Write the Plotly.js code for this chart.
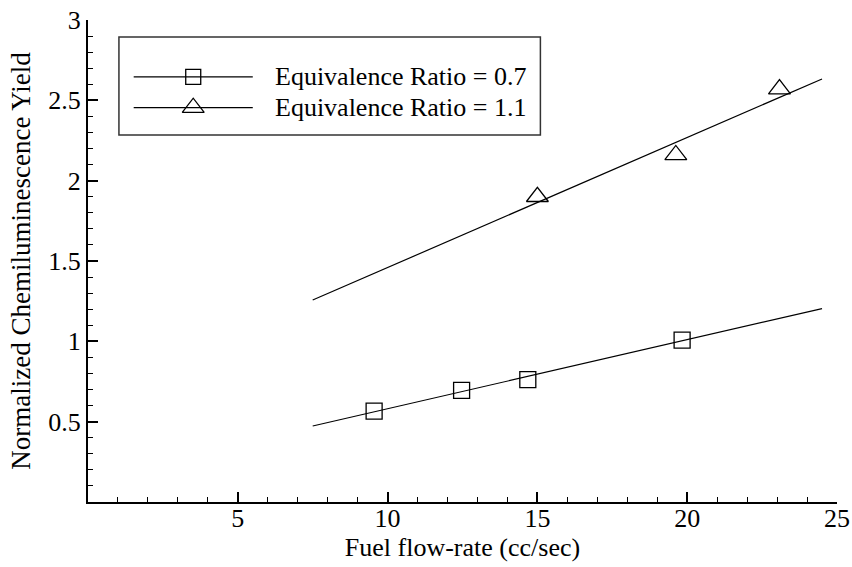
<!DOCTYPE html>
<html>
<head>
<meta charset="utf-8">
<script src="https://cdn.plot.ly/plotly-3.0.1.min.js"></script>
<style>html,body{margin:0;padding:0;background:#fff;}#chart{width:852px;height:567px;}</style>
</head>
<body>
<div id="chart"></div>
<script>
// ---- data ----
const seriesNames = ["Equivalence Ratio = 0.7", "Equivalence Ratio = 1.1"];
const phi07_x = [9.55, 12.47, 14.68, 19.83];
const phi07_y = [0.565, 0.695, 0.762, 1.008];
const phi11_x = [15.0, 19.62, 23.08];
const phi11_y = [1.90, 2.16, 2.57];
// linear fit lines (end points)
const fit07_x = [7.5, 24.5];
const fit07_y = [0.473, 1.204];
const fit11_x = [7.5, 24.5];
const fit11_y = [1.257, 2.633];
// axis ticks
const xTickVals = [5, 10, 15, 20, 25];
const xTickText = ["5", "10", "15", "20", "25"];
const yTickVals = [0.5, 1, 1.5, 2, 2.5, 3];
const yTickText = ["0.5", "1", "1.5", "2", "2.5", "3"];
const xTitle = "Fuel flow-rate (cc/sec)";
const yTitle = "Normalized Chemiluminescence Yield";

const FONT = "Liberation Serif";
const FS = 26;

const lineStyle = {color: "black", width: 1.2};
const sq = {symbol: "square-open", size: 16, color: "black", line: {width: 1.3}};
const tri = {symbol: "triangle-up-open", size: 19, color: "black", line: {width: 1.3}};

// legend sample geometry (overlay axes, 0..1 = plot area)
const legX = [0.061, 0.22], legMid = 0.1405, legY = [0.882, 0.818];

const traces = [
  {x: fit07_x, y: fit07_y, mode: "lines", line: lineStyle, hoverinfo: "skip", showlegend: false},
  {x: fit11_x, y: fit11_y, mode: "lines", line: lineStyle, hoverinfo: "skip", showlegend: false},
  {x: phi07_x, y: phi07_y, mode: "markers", marker: sq, name: seriesNames[0], showlegend: false},
  {x: phi11_x, y: phi11_y, mode: "markers", marker: tri, name: seriesNames[1], showlegend: false},
  // legend samples
  {x: legX, y: [legY[0], legY[0]], xaxis: "x2", yaxis: "y2", mode: "lines", line: lineStyle, showlegend: false, hoverinfo: "skip"},
  {x: [legMid], y: [legY[0]], xaxis: "x2", yaxis: "y2", mode: "markers", marker: Object.assign({}, sq, {size: 15}), showlegend: false, hoverinfo: "skip"},
  {x: legX, y: [legY[1], legY[1]], xaxis: "x2", yaxis: "y2", mode: "lines", line: lineStyle, showlegend: false, hoverinfo: "skip"},
  {x: [legMid], y: [legY[1]], xaxis: "x2", yaxis: "y2", mode: "markers", marker: tri, showlegend: false, hoverinfo: "skip"}
];

const layout = {
  width: 852, height: 567,
  margin: {l: 88, r: 15, t: 20, b: 65},
  paper_bgcolor: "#fff", plot_bgcolor: "#fff",
  font: {family: FONT, size: FS, color: "black"},
  showlegend: false,
  xaxis: {
    range: [0, 25], showgrid: false, zeroline: false,
    showline: true, linewidth: 2, linecolor: "black", mirror: false,
    tickmode: "array", tickvals: xTickVals, ticktext: xTickText,
    ticks: "inside", ticklen: 10, tickwidth: 2, tickcolor: "black",
    ticklabelstandoff: -8,
    tickfont: {family: FONT, size: FS, color: "black"},
    minor: {dtick: 1, tick0: 0, ticks: "inside", ticklen: 5, tickwidth: 1, tickcolor: "black", showgrid: false},
    title: {text: xTitle, font: {family: FONT, size: 26, color: "black"}, standoff: 6},
    automargin: false
  },
  yaxis: {
    range: [0, 3], showgrid: false, zeroline: false,
    showline: true, linewidth: 2, linecolor: "black", mirror: false,
    tickmode: "array", tickvals: yTickVals, ticktext: yTickText,
    ticks: "inside", ticklen: 10, tickwidth: 2, tickcolor: "black",
    tickfont: {family: FONT, size: FS, color: "black"},
    minor: {dtick: 0.1, tick0: 0, ticks: "inside", ticklen: 5, tickwidth: 1, tickcolor: "black", showgrid: false},
    title: {text: yTitle, font: {family: FONT, size: 27, color: "black"}, standoff: 10},
    automargin: false
  },
  xaxis2: {overlaying: "x", range: [0, 1], visible: false, fixedrange: true},
  yaxis2: {overlaying: "y", range: [0, 1], visible: false, fixedrange: true},
  shapes: [
    {type: "rect", xref: "paper", yref: "paper", x0: 0.0413, x1: 0.604, y0: 0.7614, y1: 0.9647,
     line: {color: "#333", width: 1.5}, fillcolor: "rgba(0,0,0,0)", layer: "below"}
  ],
  annotations: [
    {xref: "paper", yref: "paper", x: 0.2467, y: legY[0], xanchor: "left", yanchor: "middle", showarrow: false,
     text: seriesNames[0], font: {family: FONT, size: 26, color: "black"}},
    {xref: "paper", yref: "paper", x: 0.2467, y: legY[1], xanchor: "left", yanchor: "middle", showarrow: false,
     text: seriesNames[1], font: {family: FONT, size: 26, color: "black"}}
  ]
};

Plotly.newPlot("chart", traces, layout, {staticPlot: true, displayModeBar: false});
</script>
</body>
</html>
